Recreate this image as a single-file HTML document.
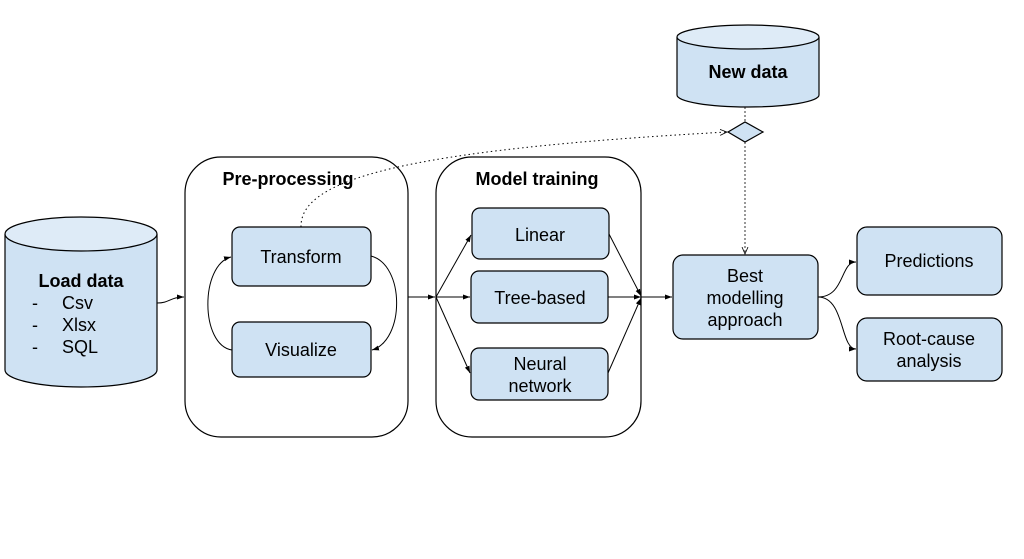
<!DOCTYPE html>
<html><head><meta charset="utf-8"><style>
html,body{margin:0;padding:0;background:#fff;}
svg{display:block;}
text{font-family:"Liberation Sans",sans-serif;font-size:18px;fill:#000;}
.b{font-weight:bold;}
</style></head><body>
<svg width="1024" height="559" viewBox="0 0 1024 559" xmlns="http://www.w3.org/2000/svg">
<defs>
<marker id="a" markerWidth="8" markerHeight="8" refX="7" refY="4" orient="auto" markerUnits="userSpaceOnUse">
<path d="M0,1.5 L7,4 L0,6.5 Z" fill="#000"/></marker>
<marker id="o" markerWidth="8" markerHeight="8" refX="7" refY="4" orient="auto" markerUnits="userSpaceOnUse">
<path d="M0,1 L7,4 L0,7" fill="none" stroke="#000" stroke-width="0.8"/></marker>
</defs>
<g stroke="#000" stroke-width="1.2" fill="none">
<rect x="185" y="157" width="223" height="280" rx="36" fill="#fff"/>
<rect x="436" y="157" width="205" height="280" rx="36" fill="#fff"/>
<path d="M5,234 L5,370 A76,17 0 0 0 157,370 L157,234" fill="#cfe2f3"/>
<ellipse cx="81" cy="234" rx="76" ry="17" fill="#deebf7"/>
<path d="M677,37 L677,95 A71,12 0 0 0 819,95 L819,37" fill="#cfe2f3"/>
<ellipse cx="748" cy="37" rx="71" ry="12" fill="#deebf7"/>
<rect x="232" y="227" width="139" height="59" rx="8" fill="#cfe2f3"/>
<rect x="232" y="322" width="139" height="55" rx="8" fill="#cfe2f3"/>
<rect x="472" y="208" width="137" height="51" rx="8" fill="#cfe2f3"/>
<rect x="471" y="271" width="137" height="52" rx="8" fill="#cfe2f3"/>
<rect x="471" y="348" width="137" height="52" rx="8" fill="#cfe2f3"/>
<rect x="673" y="255" width="145" height="84" rx="10" fill="#cfe2f3"/>
<rect x="857" y="227" width="145" height="68" rx="10" fill="#cfe2f3"/>
<rect x="857" y="318" width="145" height="63" rx="10" fill="#cfe2f3"/>
<path d="M728,132 L745,122 L763,132 L745,142 Z" fill="#cfe2f3"/>
<path d="M157,303 C170,303 170,297 184,297" marker-end="url(#a)" stroke-width="1"/>
<path d="M232,350 C200,345 200,265 231,257" marker-end="url(#a)" stroke-width="1"/>
<path d="M371,256 C405,265 405,340 372,350" marker-end="url(#a)" stroke-width="1"/>
<path d="M408,297 L435,297" marker-end="url(#a)" stroke-width="1"/>
<path d="M436,297 L471,235" marker-end="url(#a)" stroke-width="1"/>
<path d="M436,297 L470,297" marker-end="url(#a)" stroke-width="1"/>
<path d="M436,297 L470,373" marker-end="url(#a)" stroke-width="1"/>
<path d="M609,234 L641,296" marker-end="url(#a)" stroke-width="1"/>
<path d="M608,297 L641,297" marker-end="url(#a)" stroke-width="1"/>
<path d="M608,373 L641,298" marker-end="url(#a)" stroke-width="1"/>
<path d="M641,297 L672,297" marker-end="url(#a)" stroke-width="1"/>
<path d="M818,297 C845,297 840,262 856,262" marker-end="url(#a)" stroke-width="1"/>
<path d="M818,297 C845,297 840,349 856,349" marker-end="url(#a)" stroke-width="1"/>
<path d="M301,227 C300,180 400,150 727,132" stroke-dasharray="1.5,3" marker-end="url(#o)" stroke-width="1"/>
<path d="M745,107 L745,122" stroke-dasharray="2,2" stroke-width="0.8"/>
<path d="M745,142 L745,254" stroke-dasharray="2,2" marker-end="url(#o)" stroke-width="0.8"/>
</g>
<text x="81" y="287" text-anchor="middle" class="b">Load data</text>
<text x="32" y="309">-</text><text x="62" y="309">Csv</text>
<text x="32" y="331">-</text><text x="62" y="331">Xlsx</text>
<text x="32" y="353">-</text><text x="62" y="353">SQL</text>
<text x="288" y="185" text-anchor="middle" class="b">Pre-processing</text>
<text x="537" y="185" text-anchor="middle" class="b">Model training</text>
<text x="748" y="78" text-anchor="middle" class="b">New data</text>
<text x="301" y="263" text-anchor="middle">Transform</text>
<text x="301" y="356" text-anchor="middle">Visualize</text>
<text x="540" y="241" text-anchor="middle">Linear</text>
<text x="540" y="304" text-anchor="middle">Tree-based</text>
<text x="540" y="370" text-anchor="middle">Neural</text>
<text x="540" y="392" text-anchor="middle">network</text>
<text x="745" y="282" text-anchor="middle">Best</text>
<text x="745" y="304" text-anchor="middle">modelling</text>
<text x="745" y="326" text-anchor="middle">approach</text>
<text x="929" y="267" text-anchor="middle">Predictions</text>
<text x="929" y="345" text-anchor="middle">Root-cause</text>
<text x="929" y="367" text-anchor="middle">analysis</text>
</svg>
</body></html>
